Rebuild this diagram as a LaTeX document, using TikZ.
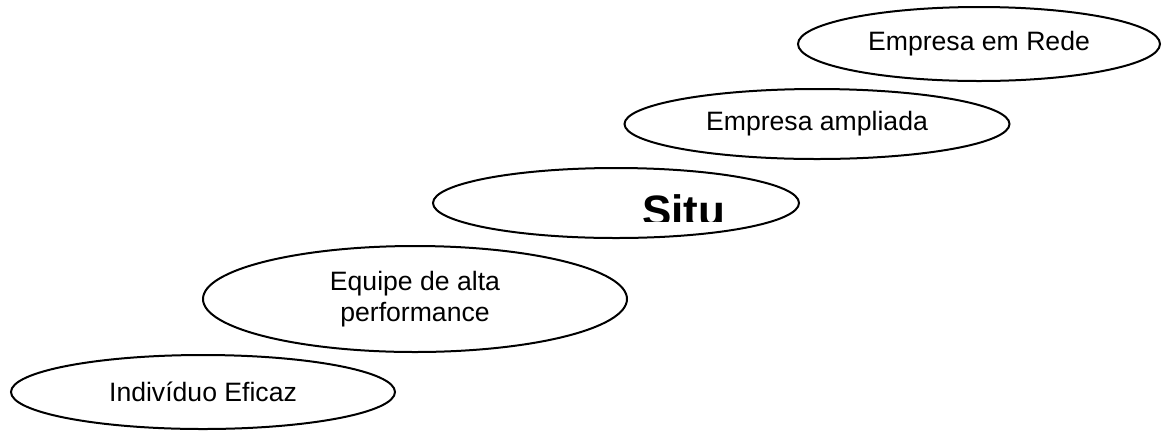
\documentclass[tikz,border=0pt]{standalone}
\usepackage{fontspec}
\setmainfont{Liberation Sans}
\usepackage{tikz}
\usetikzlibrary{shapes.geometric,positioning}

\begin{document}
\begin{tikzpicture}[
  x=0.5pt,y=-0.5pt,
  etapa/.style={ellipse,draw,line width=1pt,inner sep=0pt,align=center,
    font=\fontsize{13.3}{15.4}\selectfont},
]
\useasboundingbox (0,0) rectangle (1162,430);

% Steps, bottom to top
\node[etapa,minimum width=192pt,minimum height=37pt] (individuo) at (203,392) {Indivíduo Eficaz};
\node[etapa,minimum width=212pt,minimum height=53pt] (equipe) at (415,299) {Equipe de alta\\performance};
\node[etapa,minimum width=183pt,minimum height=35pt] (situ) at (616,203) {};
\node[etapa,minimum width=192.5pt,minimum height=35pt] (ampliada) at (817,124) {Empresa ampliada};
\node[etapa,minimum width=181pt,minimum height=37pt] (rede) at (979,44) {Empresa em Rede};

% Clipped text of the middle step
\begin{scope}
  \clip (600,170) rectangle (780,221);
  \node[anchor=base west,inner sep=0pt,font=\fontsize{22}{26}\selectfont\bfseries] (situtxt) at (642,226) {Situ};
\end{scope}

\end{tikzpicture}
\end{document}
